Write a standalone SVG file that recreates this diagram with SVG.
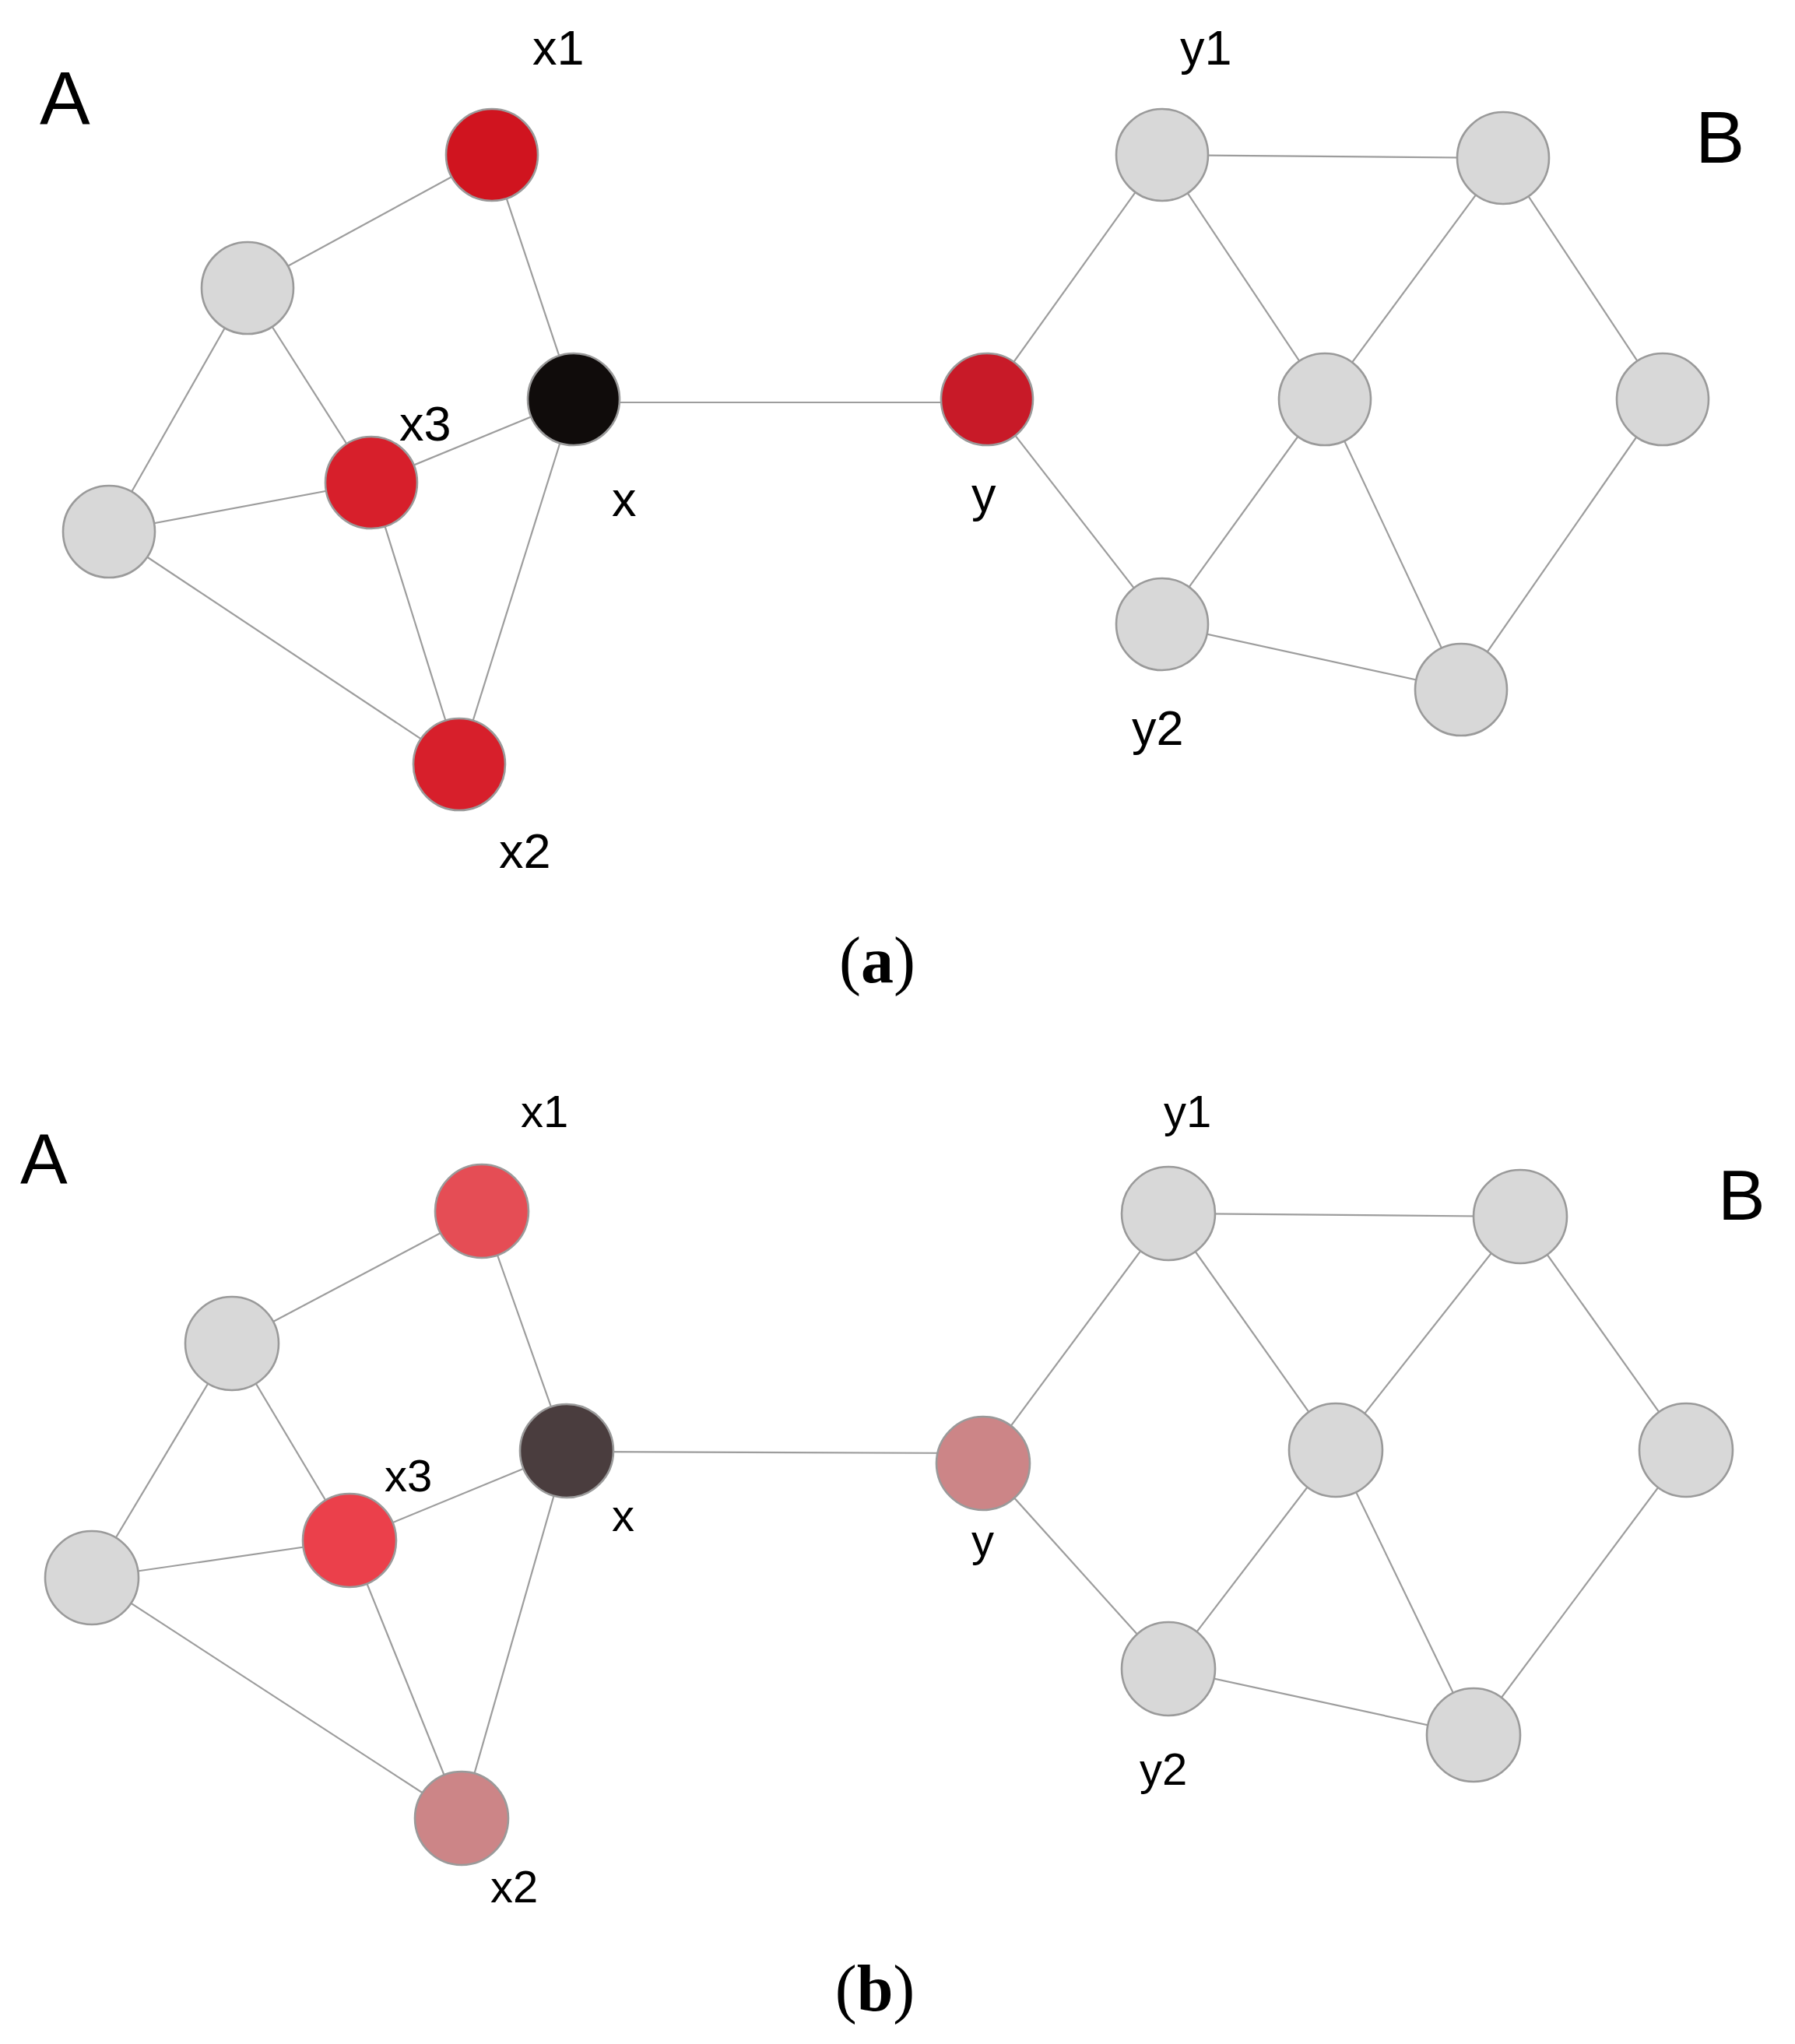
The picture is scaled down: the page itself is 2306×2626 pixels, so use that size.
<svg xmlns="http://www.w3.org/2000/svg" width="2306" height="2626" viewBox="0 0 2306 2626">
<style>
.e{stroke:#9d9d9d;stroke-width:2.2;fill:none}
.n{stroke:#9a9a9a;stroke-width:2.6}
.g{fill:#d8d8d8}
.t{font-family:"Liberation Sans",Arial,sans-serif;fill:#000}
.la{font-size:63px}
.lb{font-size:58px}
.cap{font-family:"Liberation Serif","Times New Roman",serif;font-size:84px;fill:#000;text-anchor:middle}
</style>
<rect width="2306" height="2626" fill="#fff"/>
<g id="connectors-a">
<line class="e" x1="318" y1="370" x2="632" y2="199"/>
<line class="e" x1="632" y1="199" x2="737" y2="513"/>
<line class="e" x1="318" y1="370" x2="477" y2="620"/>
<line class="e" x1="318" y1="370" x2="140" y2="683"/>
<line class="e" x1="140" y1="683" x2="477" y2="620"/>
<line class="e" x1="140" y1="683" x2="590" y2="982"/>
<line class="e" x1="477" y1="620" x2="737" y2="513"/>
<line class="e" x1="477" y1="620" x2="590" y2="982"/>
<line class="e" x1="737" y1="513" x2="590" y2="982"/>
<line class="e" x1="737" y1="517" x2="1268" y2="517"/>
<line class="e" x1="1268" y1="513" x2="1493" y2="199"/>
<line class="e" x1="1268" y1="513" x2="1493" y2="802"/>
<line class="e" x1="1493" y1="199" x2="1931" y2="203"/>
<line class="e" x1="1493" y1="199" x2="1702" y2="513"/>
<line class="e" x1="1931" y1="203" x2="1702" y2="513"/>
<line class="e" x1="1931" y1="203" x2="2136" y2="513"/>
<line class="e" x1="1702" y1="513" x2="1493" y2="802"/>
<line class="e" x1="1702" y1="513" x2="1877" y2="886"/>
<line class="e" x1="1493" y1="802" x2="1877" y2="886"/>
<line class="e" x1="2136" y1="513" x2="1877" y2="886"/>
</g>
<g id="connectors-b">
<line class="e" x1="298" y1="1726" x2="619" y2="1556"/>
<line class="e" x1="619" y1="1556" x2="728" y2="1864"/>
<line class="e" x1="298" y1="1726" x2="449" y2="1979"/>
<line class="e" x1="298" y1="1726" x2="118" y2="2027"/>
<line class="e" x1="118" y1="2027" x2="449" y2="1979"/>
<line class="e" x1="118" y1="2027" x2="593" y2="2336"/>
<line class="e" x1="449" y1="1979" x2="728" y2="1864"/>
<line class="e" x1="449" y1="1979" x2="593" y2="2336"/>
<line class="e" x1="728" y1="1864" x2="593" y2="2336"/>
<line class="e" x1="728" y1="1865" x2="1263" y2="1867"/>
<line class="e" x1="1263" y1="1880" x2="1501" y2="1559"/>
<line class="e" x1="1263" y1="1880" x2="1501" y2="2144"/>
<line class="e" x1="1501" y1="1559" x2="1953" y2="1563"/>
<line class="e" x1="1501" y1="1559" x2="1716" y2="1863"/>
<line class="e" x1="1953" y1="1563" x2="1716" y2="1863"/>
<line class="e" x1="1953" y1="1563" x2="2166" y2="1863"/>
<line class="e" x1="1716" y1="1863" x2="1501" y2="2144"/>
<line class="e" x1="1716" y1="1863" x2="1893" y2="2229"/>
<line class="e" x1="1501" y1="2144" x2="1893" y2="2229"/>
<line class="e" x1="2166" y1="1863" x2="1893" y2="2229"/>
</g>
<g id="panel-a-nodes">
<g id="a-x1"><circle class="n" cx="632" cy="199" r="59" fill="#d0141f"/></g>
<g id="a-g1"><circle class="n g" cx="318" cy="370" r="59"/></g>
<g id="a-x"><circle class="n" cx="737" cy="513" r="59" fill="#100c0b"/></g>
<g id="a-x3"><circle class="n" cx="477" cy="620" r="59" fill="#d71f2b"/></g>
<g id="a-g2"><circle class="n g" cx="140" cy="683" r="59"/></g>
<g id="a-x2"><circle class="n" cx="590" cy="982" r="59" fill="#d71f2b"/></g>
<g id="a-y"><circle class="n" cx="1268" cy="513" r="59" fill="#c81a28"/></g>
<g id="a-y1"><circle class="n g" cx="1493" cy="199" r="59"/></g>
<g id="a-tr"><circle class="n g" cx="1931" cy="203" r="59"/></g>
<g id="a-mid"><circle class="n g" cx="1702" cy="513" r="59"/></g>
<g id="a-r"><circle class="n g" cx="2136" cy="513" r="59"/></g>
<g id="a-y2"><circle class="n g" cx="1493" cy="802" r="59"/></g>
<g id="a-br"><circle class="n g" cx="1877" cy="886" r="59"/></g>
</g>
<g id="panel-b-nodes">
<g id="b-x1"><circle class="n" cx="619" cy="1556" r="60" fill="#e54d55"/></g>
<g id="b-g1"><circle class="n g" cx="298" cy="1726" r="60"/></g>
<g id="b-x"><circle class="n" cx="728" cy="1864" r="60" fill="#4a3d3e"/></g>
<g id="b-x3"><circle class="n" cx="449" cy="1979" r="60" fill="#eb404b"/></g>
<g id="b-g2"><circle class="n g" cx="118" cy="2027" r="60"/></g>
<g id="b-x2"><circle class="n" cx="593" cy="2336" r="60" fill="#cc8587"/></g>
<g id="b-y"><circle class="n" cx="1263" cy="1880" r="60" fill="#cc8587"/></g>
<g id="b-y1"><circle class="n g" cx="1501" cy="1559" r="60"/></g>
<g id="b-tr"><circle class="n g" cx="1953" cy="1563" r="60"/></g>
<g id="b-mid"><circle class="n g" cx="1716" cy="1863" r="60"/></g>
<g id="b-r"><circle class="n g" cx="2166" cy="1863" r="60"/></g>
<g id="b-y2"><circle class="n g" cx="1501" cy="2144" r="60"/></g>
<g id="b-br"><circle class="n g" cx="1893" cy="2229" r="60"/></g>
</g>
<g id="labels-a" class="t">
<text x="51" y="159" font-size="97">A</text>
<text x="2178" y="209" font-size="95">B</text>
<text class="la" x="684" y="83">x1</text>
<text class="la" x="513" y="566">x3</text>
<text class="la" x="786" y="663">x</text>
<text class="la" x="641" y="1115">x2</text>
<text class="la" x="1516" y="83">y1</text>
<text class="la" x="1248" y="657">y</text>
<text class="la" x="1454" y="957">y2</text>
</g>
<g id="labels-b" class="t">
<text x="26" y="1520" font-size="91">A</text>
<text x="2207" y="1567" font-size="91">B</text>
<text class="lb" x="669" y="1448">x1</text>
<text class="lb" x="494" y="1916">x3</text>
<text class="lb" x="786" y="1967">x</text>
<text class="lb" x="630" y="2444">x2</text>
<text class="lb" x="1495" y="1448">y1</text>
<text class="lb" x="1248" y="1999">y</text>
<text class="lb" x="1464" y="2293">y2</text>
</g>
<g id="captions">
<text class="cap" x="1127" y="1262">(<tspan font-weight="bold">a</tspan>)</text>
<text class="cap" x="1124" y="2583">(<tspan font-weight="bold">b</tspan>)</text>
</g>
</svg>
